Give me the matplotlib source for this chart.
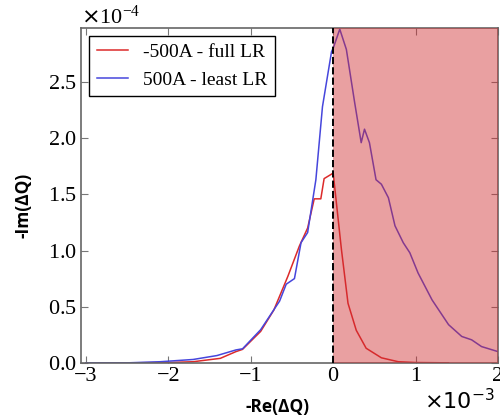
import matplotlib
matplotlib.use("Agg")
import matplotlib.pyplot as plt
from matplotlib.ticker import ScalarFormatter
import numpy as np

# -Re(dQ) in units of 1e-3, -Im(dQ) in units of 1e-4
x_full = [-3.0, -2.5, -2.0, -1.7, -1.37, -1.18, -1.1, -0.88, -0.72, -0.55, -0.41,
          -0.31, -0.23, -0.15, -0.11, -0.02, 0.0, 0.1, 0.18, 0.28, 0.4, 0.585,
          0.79, 1.0, 1.4]
y_full = [0.0, 0.0, 0.003, 0.01, 0.04, 0.10, 0.12, 0.28, 0.47, 0.77, 1.04,
          1.2, 1.46, 1.46, 1.64, 1.68, 1.69, 1.01, 0.53, 0.29, 0.13, 0.045,
          0.01, 0.003, 0.0]

x_least = [-3.0, -2.5, -2.1, -1.7, -1.41, -1.18, -1.1, -0.88, -0.65, -0.57, -0.47,
           -0.39, -0.31, -0.21, -0.13, -0.02, 0.0, 0.08, 0.16, 0.26, 0.34, 0.38,
           0.44, 0.52, 0.585, 0.67, 0.75, 0.85, 0.93, 1.03, 1.2, 1.4, 1.56,
           1.68, 1.8, 2.0]
y_least = [0.0, 0.0, 0.01, 0.03, 0.065, 0.115, 0.125, 0.295, 0.55, 0.70, 0.75,
           1.07, 1.16, 1.63, 2.28, 2.77, 2.80, 2.97, 2.79, 2.32, 1.96, 2.08,
           1.96, 1.63, 1.59, 1.47, 1.22, 1.07, 0.98, 0.80, 0.56, 0.34, 0.235,
           0.205, 0.145, 0.10]

labels = ["-500A - full LR", "500A - least LR"]
serif = ["Liberation Serif", "DejaVu Serif"]

fig = plt.figure(figsize=(5.0, 4.19), dpi=100)
ax = fig.add_axes([0.162, 0.134, 0.834, 0.799])

ax.plot(np.array(x_full) * 1e-3, np.array(y_full) * 1e-4, color="#dc2a2a", lw=1.1, label=labels[0])
ax.plot(np.array(x_least) * 1e-3, np.array(y_least) * 1e-4, color="#4646dc", lw=1.1, label=labels[1])
ax.axvspan(0, 2e-3, color="#d02c30", alpha=0.45, lw=0, zorder=3)
ax.axvline(0, color="black", ls="--", lw=1.4, zorder=4)

ax.set_xlim(-3.06e-3, 2e-3)
ax.set_ylim(0, 2.98e-4)
ax.set_xticks([-3e-3, -2e-3, -1e-3, 0, 1e-3, 2e-3])
ax.set_yticks([0, 0.5e-4, 1e-4, 1.5e-4, 2e-4, 2.5e-4])
ax.set_xticklabels(["\u22123", "\u22122", "\u22121", "0", "1", "2"])

# y axis keeps its own offset text, x one is placed by hand
fmt = ScalarFormatter(useMathText=True)
fmt.set_powerlimits((-2, 2))
ax.yaxis.set_major_formatter(fmt)
ax.yaxis.get_offset_text().set_fontsize(16)
ax.yaxis.get_offset_text().set_family(serif)
ax.text(0.993, -0.115, r"$\times10^{-3}$", transform=ax.transAxes, ha="right", va="center",
        fontsize=16, family=serif)

ax.tick_params(direction="in", top=True, right=True, length=5, color="#777777",
               labelsize=16, pad=3)
for lab in ax.get_xticklabels() + ax.get_yticklabels():
    lab.set_family(serif)
for s in ax.spines.values():
    s.set_color("#666666")
    s.set_linewidth(1.2)

ax.set_xlabel("-Re(ΔQ)", fontsize=12.5, fontweight="bold", family="Open Sans")
ax.set_ylabel("-Im(ΔQ)", fontsize=12.5, fontweight="bold", family="Open Sans")
ax.xaxis.set_label_coords(0.471, -0.105)
ax.yaxis.set_label_coords(-0.117, 0.47)

leg = ax.legend(loc="upper left", prop={"family": serif, "size": 14}, fancybox=False,
                edgecolor="black", framealpha=1, handlelength=1.6, borderaxespad=0.4)
leg.get_frame().set_linewidth(1.0)

fig.savefig("out.png", dpi=100)
